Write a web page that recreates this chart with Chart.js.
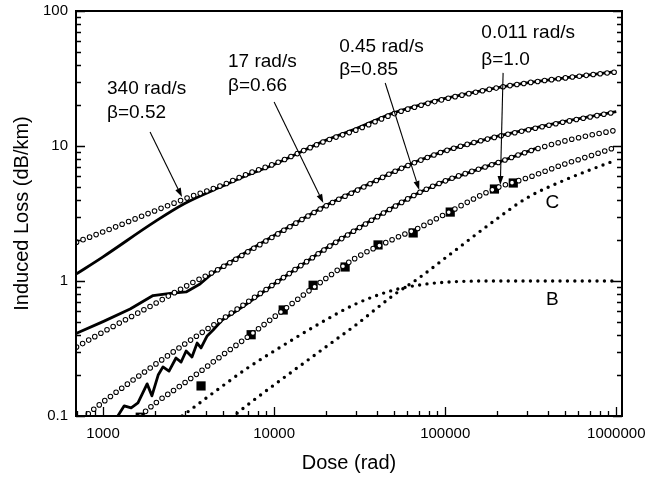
<!DOCTYPE html>
<html>
<head>
<meta charset="utf-8">
<script src="https://cdn.jsdelivr.net/npm/chart.js@4.4.0/dist/chart.umd.min.js"></script>
<style>
  html, body { margin: 0; padding: 0; background: #fff; }
  canvas { display: block; }
</style>
</head>
<body>
<canvas id="lossChart" width="645" height="478"></canvas>
<script>
// axis ticks
const xTicks = [1000, 10000, 100000, 1000000];
const yTicks = [0.1, 1, 10, 100];

// common dose grid (rad)
const gridDose = [700, 1000, 2000, 3000, 5000, 7000, 10000, 20000, 30000, 50000, 70000, 100000, 200000, 300000, 500000, 700000, 1000000];

// 340 rad/s, beta = 0.52
const fit340 = [1.94, 2.31, 3.30, 4.05, 5.14, 6.21, 7.36, 10.9, 13.1, 17.3, 19.8, 22.3, 26.9, 29.3, 31.9, 33.6, 35.3];
const meas340 = [1.13, 1.51, 2.74, 3.75, 5.05, 6.1, 7.3, 11.0, 13.4, 17.6, 20.0, 22.5, 27.0, 29.4, 32.0, 33.7, 35.5];

// 17 rad/s, beta = 0.66
const fit17 = [0.324, 0.419, 0.676, 0.904, 1.27, 1.64, 2.15, 3.59, 4.64, 6.42, 7.74, 9.19, 11.7, 13.1, 15.1, 16.4, 17.9];
const meas17Dose = [700, 1000, 1440, 1960, 2470, 3060, 3690, 4400, 7000, 10000, 20000, 30000, 50000, 70000, 100000, 200000, 300000, 500000, 700000, 1000000];
const meas17 = [0.41, 0.50, 0.62, 0.78, 0.81, 0.83, 0.95, 1.15, 1.66, 2.17, 3.62, 4.68, 6.45, 7.8, 9.25, 11.8, 13.2, 15.2, 16.5, 18.0];

// 0.45 rad/s, beta = 0.85
const fit045Dose = [820, 1000, 2000, 3000, 5000, 7000, 10000, 20000, 30000, 50000, 70000, 100000, 200000, 300000, 500000, 700000, 1000000];
const fit045 = [0.104, 0.127, 0.239, 0.341, 0.524, 0.698, 0.95, 1.73, 2.39, 3.53, 4.49, 5.51, 7.48, 9.03, 10.9, 12.0, 13.1];
const meas045Dose = [1220, 1330, 1460, 1600, 1810, 1930, 2100, 2240, 2430, 2670, 2860, 3060, 3310, 3550, 3740, 4060, 4400, 4970, 5760, 6770, 10000, 20000, 30000, 50000, 70000, 100000, 200000, 340000];
const meas045 = [0.100, 0.119, 0.115, 0.125, 0.173, 0.141, 0.201, 0.231, 0.215, 0.269, 0.251, 0.303, 0.274, 0.347, 0.319, 0.392, 0.434, 0.514, 0.579, 0.664, 0.95, 1.74, 2.40, 3.55, 4.5, 5.52, 7.5, 9.6];

// 0.011 rad/s, beta = 1.0
const fit011Dose = [1650, 2000, 3000, 5000, 7000, 10000, 20000, 30000, 50000, 70000, 100000, 200000, 300000, 500000, 700000, 1000000];
const fit011 = [0.100, 0.123, 0.176, 0.283, 0.385, 0.541, 1.04, 1.48, 2.05, 2.47, 3.13, 4.89, 5.79, 7.36, 8.43, 9.83];
const meas011Dose = [1650, 3740, 7340, 11300, 16900, 26000, 40500, 65000, 107000, 194000, 250000];
const meas011 = [0.098, 0.167, 0.40, 0.61, 0.93, 1.27, 1.85, 2.27, 3.24, 4.8, 5.32];

// components B and C
const compBDose = [2900, 5000, 7000, 10000, 20000, 30000, 50000, 70000, 100000, 200000, 300000, 500000, 700000, 1000000];
const compB = [0.1, 0.167, 0.227, 0.303, 0.514, 0.676, 0.857, 0.933, 0.98, 1.0, 1.0, 1.0, 1.0, 1.0];
const compCDose = [6080, 7000, 10000, 20000, 30000, 50000, 70000, 100000, 200000, 300000, 500000, 700000, 1000000];
const compC = [0.105, 0.121, 0.170, 0.324, 0.472, 0.787, 1.05, 1.48, 2.88, 4.12, 5.60, 6.64, 7.87];

// text labels and arrows, in data coordinates
const notes = [
  { text: '340 rad/s', x: 1055, y: 26.4 },
  { text: '\u03b2=0.52', x: 1055, y: 17.5 },
  { text: '17 rad/s', x: 5380, y: 41.9 },
  { text: '\u03b2=0.66', x: 5380, y: 27.8 },
  { text: '0.45 rad/s', x: 24000, y: 54.1 },
  { text: '\u03b2=0.85', x: 24000, y: 36.6 },
  { text: '0.011 rad/s', x: 162600, y: 68.8 },
  { text: '\u03b2=1.0', x: 162600, y: 43.3 },
  { text: 'C', x: 423000, y: 3.78, center: true },
  { text: 'B', x: 423000, y: 0.72, center: true }
];
const arrows = [
  [1883, 12.7, 2895, 4.19],
  [10000, 21.2, 19400, 3.78],
  [44600, 29.3, 70500, 4.72],
  [218000, 34.8, 210000, 5.14]
];

const pts = (xs, ys) => xs.map((x, i) => ({ x, y: ys[i] }));

const FONT = '"Liberation Sans", Arial, Helvetica, sans-serif';
Chart.defaults.font.family = FONT;
Chart.defaults.color = '#000';

function solid(xs, ys, smooth) {
  return {
    data: pts(xs, ys), showLine: true, pointRadius: 0,
    borderColor: '#000', borderWidth: 2.8, borderJoinStyle: 'round',
    cubicInterpolationMode: smooth ? 'monotone' : 'default', tension: 0,
    order: 6
  };
}
// hollow circles: black dots with a smaller white dot on top
function rings(xs, ys) {
  const base = {
    showLine: true, pointRadius: 0,
    borderCapStyle: 'round', borderDash: [0, 7],
    cubicInterpolationMode: 'monotone'
  };
  return [
    Object.assign({}, base, { data: pts(xs, ys), borderColor: '#000', borderWidth: 5.6, order: 3 }),
    Object.assign({}, base, { data: pts(xs, ys), borderColor: '#fff', borderWidth: 3.6, order: 2 })
  ];
}
function dots(xs, ys) {
  return {
    data: pts(xs, ys), showLine: true, pointRadius: 0,
    borderColor: '#000', borderWidth: 3.4, borderCapStyle: 'round',
    borderDash: [0, 7.4], cubicInterpolationMode: 'monotone', order: 1
  };
}

const datasets = [
  solid(gridDose, meas340, true),
  solid(meas17Dose, meas17, false),
  solid(meas045Dose, meas045, false),
  ...rings(gridDose, fit340),
  ...rings(gridDose, fit17),
  ...rings(fit045Dose, fit045),
  ...rings(fit011Dose, fit011),
  {
    data: pts(meas011Dose, meas011), showLine: false,
    pointStyle: 'rect', pointRadius: 6.5, backgroundColor: '#000',
    borderWidth: 0, order: 4
  },
  dots(compBDose, compB),
  dots(compCDose, compC)
];

function arrow(ctx, x0, y0, x1, y1) {
  const a = Math.atan2(y1 - y0, x1 - x0);
  const head = 9, half = 3;
  const bx = x1 - head * Math.cos(a), by = y1 - head * Math.sin(a);
  ctx.beginPath();
  ctx.moveTo(x0, y0);
  ctx.lineTo(bx, by);
  ctx.stroke();
  ctx.beginPath();
  ctx.moveTo(x1, y1);
  ctx.lineTo(bx + half * Math.sin(a), by - half * Math.cos(a));
  ctx.lineTo(bx - half * Math.sin(a), by + half * Math.cos(a));
  ctx.closePath();
  ctx.fill();
}

const framePlugin = {
  id: 'framePlugin',
  afterDatasetsDraw(chart) {
    const { ctx, chartArea: a, scales: { x, y } } = chart;
    ctx.save();
    ctx.strokeStyle = '#000';
    ctx.fillStyle = '#000';

    // inward ticks
    ctx.lineWidth = 1.3;
    ctx.beginPath();
    for (let e = 2; e <= 6; e++) {
      for (let m = 1; m <= 9; m++) {
        const v = m * Math.pow(10, e);
        if (v < x.min || v > x.max) continue;
        const px = Math.round(x.getPixelForValue(v)) + 0.5;
        const len = m === 1 ? 9 : 5;
        ctx.moveTo(px, a.bottom);
        ctx.lineTo(px, a.bottom - len);
      }
    }
    for (let e = -1; e <= 2; e++) {
      for (let m = 1; m <= 9; m++) {
        const v = m * Math.pow(10, e);
        if (v < y.min || v > y.max) continue;
        const py = Math.round(y.getPixelForValue(v)) + 0.5;
        const len = m === 1 ? 9 : 5;
        ctx.moveTo(a.left, py);
        ctx.lineTo(a.left + len, py);
        ctx.moveTo(a.right, py);
        ctx.lineTo(a.right - len, py);
      }
    }
    ctx.stroke();

    // frame
    ctx.lineWidth = 2;
    ctx.strokeRect(a.left, a.top, a.right - a.left, a.bottom - a.top);

    // arrows
    ctx.lineWidth = 1.1;
    arrows.forEach(([x0, y0, x1, y1]) => {
      arrow(ctx, x.getPixelForValue(x0), y.getPixelForValue(y0),
        x.getPixelForValue(x1), y.getPixelForValue(y1));
    });

    // labels
    ctx.font = '19px ' + FONT;
    ctx.textBaseline = 'middle';
    notes.forEach(n => {
      ctx.textAlign = n.center ? 'center' : 'left';
      ctx.fillText(n.text, x.getPixelForValue(n.x), y.getPixelForValue(n.y));
    });
    ctx.restore();
  }
};

new Chart(document.getElementById('lossChart').getContext('2d'), {
  type: 'scatter',
  data: { datasets },
  options: {
    responsive: false,
    devicePixelRatio: 1,
    animation: false,
    layout: { padding: { top: 11, right: 23, left: 0, bottom: 0 } },
    plugins: { legend: { display: false }, tooltip: { enabled: false } },
    scales: {
      x: {
        type: 'logarithmic',
        position: 'bottom',
        min: 695,
        max: 1080000,
        grid: { display: false, drawTicks: false },
        border: { display: false },
        afterBuildTicks: s => { s.ticks = xTicks.map(v => ({ value: v })); },
        afterFit: s => { s.height = 62; s.paddingLeft = 0; s.paddingRight = 0; },
        ticks: {
          autoSkip: false, maxRotation: 0, padding: 9,
          font: { size: 15 }, color: '#000',
          callback: v => String(v)
        },
        title: {
          display: true, text: 'Dose (rad)',
          font: { size: 20 }, color: '#000',
          padding: { top: 0, bottom: 3 }
        }
      },
      y: {
        type: 'logarithmic',
        position: 'left',
        min: 0.1,
        max: 100,
        grid: { display: false, drawTicks: false },
        border: { display: false },
        afterBuildTicks: s => { s.ticks = yTicks.map(v => ({ value: v })); },
        afterFit: s => { s.width = 76; s.paddingTop = 0; s.paddingBottom = 0; },
        ticks: {
          autoSkip: false, padding: 8,
          font: { size: 15 }, color: '#000',
          callback: v => String(v)
        },
        title: {
          display: true, text: 'Induced Loss (dB/km)',
          font: { size: 20 }, color: '#000',
          padding: { top: 10, bottom: 0 }
        }
      }
    }
  },
  plugins: [framePlugin]
});
</script>
</body>
</html>
